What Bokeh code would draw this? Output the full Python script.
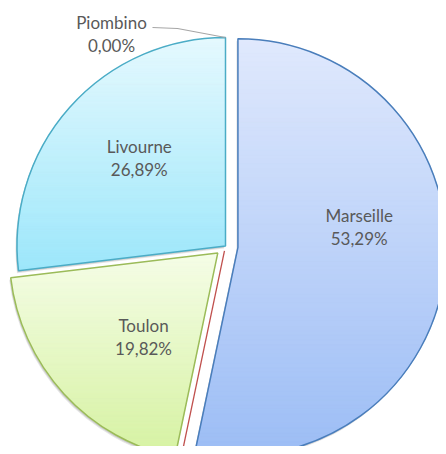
import numpy as np
from bokeh.plotting import figure
from bokeh.models import Range1d
from bokeh.core.properties import value
from bokeh.embed import file_html
from bokeh.resources import INLINE

# ---------------- data ----------------
categories = ["Marseille", "", "Toulon", "Livourne", "Piombino"]
shares = [53.29, 0.00, 19.82, 26.89, 0.00]
pct_labels = ["53,29%", "", "19,82%", "26,89%", "0,00%"]

# ---------------- style / layout ----------------
top_colors = ["#e0e9fd", "#f2dcdb", "#f5fde7", "#e5f9fe", "#fde9d9"]
bottom_colors = ["#9cbdf5", "#e6b9b8", "#d6f2a2", "#9de7fb", "#fac090"]
line_colors = ["#4a7ebb", "#c0504d", "#9bbb59", "#4bacc6", "#f79646"]
explode = [12.5, 5.0, 10.5, 0.0, 0.0]
label_angle_shift = [-15.6, 0.0, -6.0, 3.9, 0.0]
label_dist = [123.0, 0.0, 112.0, 123.0, 0.0]
CX, CY, R = 225.0, -245.5, 208.5
TEXT_COLOR = "#595959"
FONT = "Lato"
FSIZE = "17px"
LINE_GAP = 23.0

p = figure(width=438, height=446, output_backend="svg", toolbar_location=None,
           x_range=Range1d(0, 438), y_range=Range1d(-446, 0), min_border=0)
p.axis.visible = False
p.grid.visible = False
p.outline_line_color = None
p.background_fill_color = "white"


def hex2rgb(h):
    return np.array([int(h[i:i + 2], 16) for i in (1, 3, 5)], dtype=float)


def rgb2hex(c):
    return "#%02x%02x%02x" % tuple(int(round(v)) for v in c)


def clip_half(poly, y_edge, keep_below):
    out = []
    n = len(poly)
    for i in range(n):
        cur = poly[i]
        prev = poly[i - 1]
        cin = cur[1] <= y_edge if keep_below else cur[1] >= y_edge
        pin = prev[1] <= y_edge if keep_below else prev[1] >= y_edge
        if cin:
            if not pin:
                t = (y_edge - prev[1]) / (cur[1] - prev[1])
                out.append((prev[0] + t * (cur[0] - prev[0]), y_edge))
            out.append(cur)
        elif pin:
            t = (y_edge - prev[1]) / (cur[1] - prev[1])
            out.append((prev[0] + t * (cur[0] - prev[0]), y_edge))
    return out


cum = np.concatenate([[0.0], np.cumsum(shares)])
total = float(np.sum(shares))

slices = []
for i, s in enumerate(shares):
    t0 = np.radians(cum[i] / total * 360.0)
    t1 = np.radians(cum[i + 1] / total * 360.0)
    tm = 0.5 * (t0 + t1)
    ax = CX + explode[i] * np.sin(tm)
    ay = CY + explode[i] * np.cos(tm)
    slices.append((t0, t1, tm, ax, ay))

# shadows
for i, s in enumerate(shares):
    if s <= 0:
        continue
    t0, t1, tm, ax, ay = slices[i]
    for dx, dy, a in [(-1.5, -2.5, 0.10), (-1.0, -1.5, 0.12)]:
        p.wedge(x=ax + dx, y=ay + dy, radius=R, start_angle=np.pi / 2 - t0,
                end_angle=np.pi / 2 - t1, direction="clock",
                fill_color="#000000", fill_alpha=a, line_color=None)

# gradient fills
for i, s in enumerate(shares):
    if s <= 0:
        continue
    t0, t1, tm, ax, ay = slices[i]
    ts = np.linspace(t0, t1, 200)
    poly = [(ax, ay)] + [(ax + R * np.sin(t), ay + R * np.cos(t)) for t in ts]
    ys = [pt[1] for pt in poly]
    ymax, ymin = max(ys), min(ys)
    nb = 90
    h = (ymax - ymin) / nb
    ctop, cbot = hex2rgb(top_colors[i]), hex2rgb(bottom_colors[i])
    xs_l, ys_l, cols = [], [], []
    for k in range(nb):
        y_hi = ymax - k * h
        y_lo = y_hi - h - 0.6
        band = clip_half(poly, y_hi, True)
        if len(band) < 3:
            continue
        band = clip_half(band, y_lo, False)
        if len(band) < 3:
            continue
        f = (k + 0.5) / nb
        col = rgb2hex(ctop + (cbot - ctop) * f)
        xs_l.append([b[0] for b in band])
        ys_l.append([b[1] for b in band])
        cols.append(col)
    p.patches(xs=xs_l, ys=ys_l, fill_color=cols, line_color=cols, line_width=0.6)

# zero slices drawn as lines
for i, s in enumerate(shares):
    if s > 0 or categories[i] == "Piombino":
        continue
    t0, t1, tm, ax, ay = slices[i]
    p.segment(x0=[ax], y0=[ay], x1=[ax + R * np.sin(t0)], y1=[ay + R * np.cos(t0)],
              line_color=line_colors[i], line_width=1.3)

# outlines
for i, s in enumerate(shares):
    if s <= 0:
        continue
    t0, t1, tm, ax, ay = slices[i]
    p.wedge(x=ax, y=ay, radius=R, start_angle=np.pi / 2 - t0,
            end_angle=np.pi / 2 - t1, direction="clock",
            fill_alpha=0, line_color=line_colors[i], line_width=1.5)

# labels
lx, ly, lt = [], [], []
for i, s in enumerate(shares):
    if s <= 0 or not categories[i]:
        continue
    t0, t1, tm, ax, ay = slices[i]
    a = tm + np.radians(label_angle_shift[i])
    x = ax + label_dist[i] * np.sin(a)
    y = ay + label_dist[i] * np.cos(a)
    lx += [x, x]
    ly += [y + LINE_GAP / 2, y - LINE_GAP / 2]
    lt += [categories[i], pct_labels[i]]

# Piombino (0 %) label outside with leader line
ip = categories.index("Piombino")
t0, t1, tm, ax, ay = slices[ip]
ex = ax + R * np.sin(tm)
ey = ay + R * np.cos(tm)
p.line(x=[ex, ex - 48, ex - 73], y=[ey, ey + 9, ey + 10],
       line_color="#a6a6a6", line_width=1.2)
px, py = ex - 114, ey + 3.5
lx += [px, px]
ly += [py + LINE_GAP / 2, py - LINE_GAP / 2]
lt += [categories[ip], pct_labels[ip]]

p.text(x=lx, y=ly, text=lt, text_align="center", text_baseline="middle",
       text_font=value(FONT), text_font_size=FSIZE, text_color=TEXT_COLOR)

open("out.html", "w").write(file_html(p, INLINE))
